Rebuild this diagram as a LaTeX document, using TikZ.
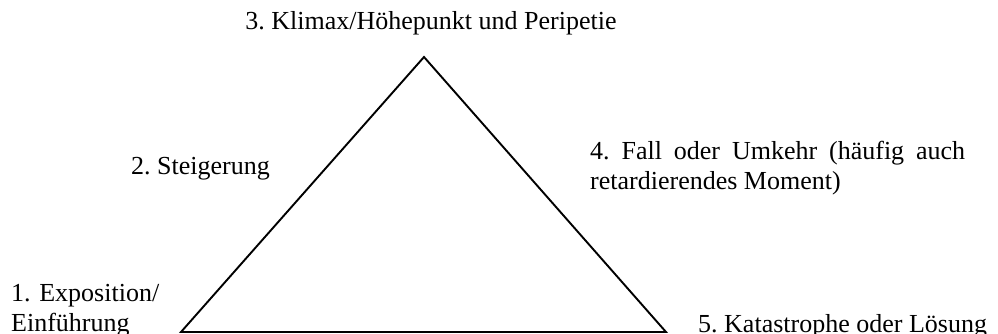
\documentclass[tikz,border=0pt]{standalone}
\usepackage{fontspec}
\setmainfont{Liberation Serif}
\usetikzlibrary{positioning}
\frenchspacing
\hyphenpenalty=10000
\exhyphenpenalty=10000

\begin{document}
\begin{tikzpicture}[x=1pt, y=-1pt,
        phase/.style={inner sep=0pt, font=\fontsize{26}{30}\selectfont},
        side/.style={draw, line width=1.9pt, line join=miter}]
        \useasboundingbox (0,0) rectangle (998,334);

        % Eckpunkte
        \coordinate (apex) at (424,57);
        \coordinate (left) at (181,332);
        \coordinate (right) at (666,332);

        % Dreieck
        \path [side] (left) -- (apex) -- (right) -- cycle;

        % Beschriftungen
        \node [phase, anchor=base] (klimax) at (431,29.5) {3. Klimax/Höhepunkt und Peripetie};
        \node [phase, anchor=base west] (steig) at (131,174) {2. Steigerung};
        \node [phase, anchor=base west, text width=375pt, align=justify] (fall) at (590,159)
            {4. Fall oder Umkehr (häufig auch retardierendes Moment)};
        \node [phase, anchor=base west, text width=170pt, align=left] (expo) at (11,301)
            {1. Exposition/\\Einführung};
        \node [phase, anchor=base west] (kata) at (698,332) {5. Katastrophe oder Lösung};
    \end{tikzpicture}
\end{document}
